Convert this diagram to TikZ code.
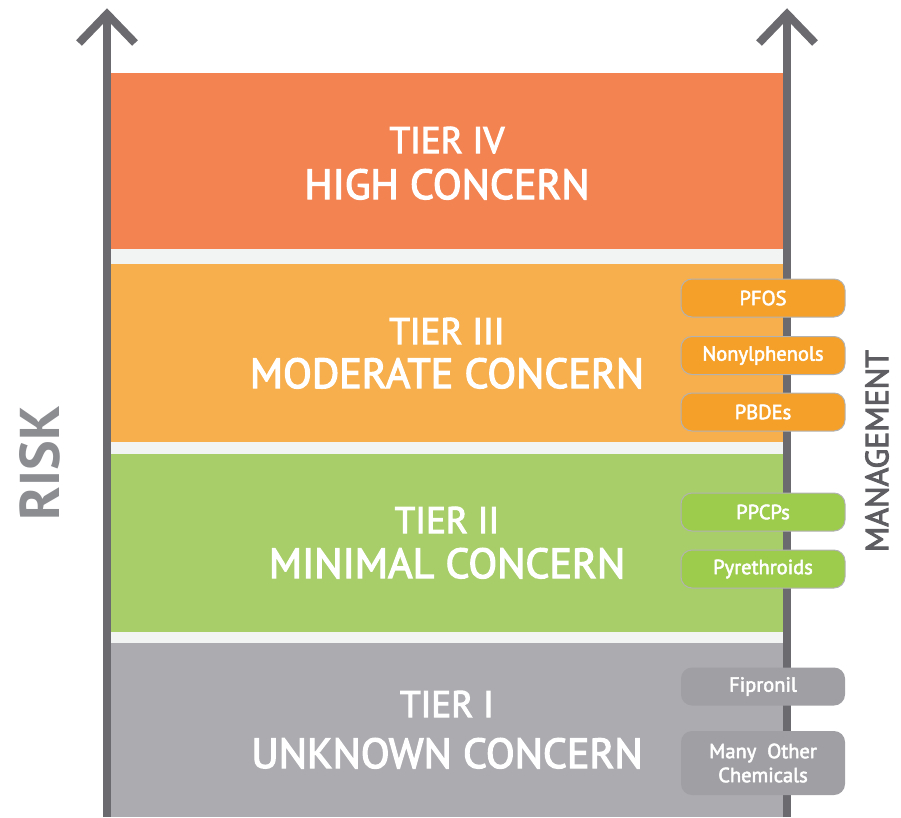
\documentclass[tikz,border=0pt]{standalone}
\usepackage{fontspec}
\setmainfont{PT Sans}
\newfontfamily\medfont[FakeBold=3]{PT Sans}
\newfontfamily\pillfont[FakeBold=2.5]{PT Sans}
\begin{document}
\begin{tikzpicture}[x=1pt,y=-1pt,
  band/.style={fill=#1,draw=none},
  tiertxt/.style={text=white,anchor=base,inner sep=0pt,font=\medfont\fontsize{37}{40}\selectfont},
  concerntxt/.style={text=white,anchor=base,inner sep=0pt,font=\medfont\fontsize{42}{46}\selectfont},
  pill/.style={fill=#1,draw=black!30,line width=1pt,rounded corners=11pt,minimum width=164pt,minimum height=38pt,inner sep=0pt,text=white,font=\pillfont\fontsize{20.5}{22}\selectfont,align=center},
  axisline/.style={draw=axisgray,line width=8pt},
  chevron/.style={draw=axisgray,line width=8pt,miter limit=10}
]
\definecolor{tierfour}{HTML}{F38452}
\definecolor{tierthree}{HTML}{F7AE4C}
\definecolor{tiertwo}{HTML}{A8CE6A}
\definecolor{tierone}{HTML}{ACABAF}
\definecolor{gapgray}{HTML}{F2F3F3}
\definecolor{pillorange}{HTML}{F5A028}
\definecolor{pillgreen}{HTML}{9DCB4C}
\definecolor{pillgray}{HTML}{A0A0A4}
\definecolor{axisgray}{HTML}{6B6B6F}
\definecolor{riskgray}{HTML}{8C8D91}
\definecolor{mgmtgray}{HTML}{5E5E62}
\useasboundingbox (0,0) rectangle (901,817);
% bands
\fill[gapgray] (111,249) rectangle (783,643);
\path[band=tierfour] (111,73) rectangle (783,249);
\path[band=tierthree] (111,264) rectangle (783,442);
\path[band=tiertwo] (111,454) rectangle (783,632);
\path[band=tierone] (111,643) rectangle (783,817);
% axes
\coordinate (lbot) at (107,817);
\coordinate (ltop) at (107,14);
\coordinate (lwl) at (79,43);
\coordinate (lwr) at (135,43);
\coordinate (rbot) at (787,817);
\coordinate (rtop) at (787,14);
\coordinate (rwl) at (759,43);
\coordinate (rwr) at (815,43);
\draw[axisline] (lbot) -- (ltop);
\draw[chevron] (lwl) -- (ltop) -- (lwr);
\draw[axisline] (rbot) -- (rtop);
\draw[chevron] (rwl) -- (rtop) -- (rwr);
% tier texts
\node[tiertxt] (t4a) at (447,153) {TIER IV};
\node[concerntxt] (t4b) at (447,199) {HIGH CONCERN};
\node[tiertxt] (t3a) at (447,344) {TIER III};
\node[concerntxt] (t3b) at (447,388) {MODERATE CONCERN};
\node[tiertxt] (t2a) at (447,533) {TIER II};
\node[concerntxt] (t2b) at (447,578) {MINIMAL CONCERN};
\node[tiertxt] (t1a) at (447,717) {TIER I};
\node[concerntxt] (t1b) at (447,768) {UNKNOWN CONCERN};
% pills
\node[pill=pillorange] (pfos) at (763,298) {PFOS};
\node[pill=pillorange] (nonyl) at (763,355.5) {Nonylphenols};
\node[pill=pillorange] (pbde) at (763,412) {PBDEs};
\node[pill=pillgreen] (ppcp) at (763,512) {PPCPs};
\node[pill=pillgreen] (pyre) at (763,569) {Pyrethroids};
\node[pill=pillgray,draw=none] (fipr) at (763,686.5) {Fipronil};
\node[pill=pillgray,draw=none,minimum height=64pt,font=\pillfont\fontsize{20.5}{24}\selectfont] (many) at (763,763) {Many~~Other\\Chemicals};
% side labels
\node[rotate=90,text=riskgray,font=\bfseries\fontsize{56}{60}\selectfont,inner sep=0pt] (risk) at (40,463) {RISK};
\node[rotate=90,text=mgmtgray,font=\medfont\fontsize{32}{36}\selectfont,inner sep=0pt] (mgmt) at (877,451) {MANAGEMENT};
\end{tikzpicture}
\end{document}
